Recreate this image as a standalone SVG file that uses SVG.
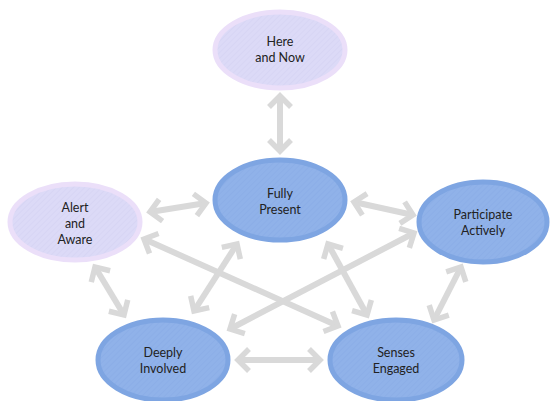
<svg xmlns="http://www.w3.org/2000/svg" width="551" height="401" viewBox="0 0 551 401">
<defs>
<style>
.conn line{stroke:#d9d9d9;stroke-width:6;fill:none;marker-start:url(#ah);marker-end:url(#ah)}
.lav{fill:url(#hatchL);stroke:#ebdff9;stroke-width:5}
.blue{fill:url(#hatchB);stroke:#7ea5e2;stroke-width:5}
text{font-family:Lato,"Open Sans","Liberation Sans",sans-serif;font-size:12.5px;fill:#222;text-anchor:middle}
</style>
<pattern id="hatchL" patternUnits="userSpaceOnUse" width="4" height="4" patternTransform="rotate(45)">
<rect width="4" height="4" fill="#dcdaf7"/>
<line x1="0" y1="0" x2="0" y2="4" stroke="#d3d1f2" stroke-width="1"/>
</pattern>
<pattern id="hatchB" patternUnits="userSpaceOnUse" width="4" height="4" patternTransform="rotate(45)">
<rect width="4" height="4" fill="#90b2e9"/>
<line x1="0" y1="0" x2="0" y2="4" stroke="#88abe5" stroke-width="1"/>
</pattern>
<marker id="ah" viewBox="-14 -14 28 28" markerWidth="28" markerHeight="28" markerUnits="userSpaceOnUse" refX="0" refY="0" orient="auto-start-reverse">
<path d="M-11,-11 L0,0 L-11,11" fill="none" stroke="#d9d9d9" stroke-width="5.5"/>
</marker>
</defs>
<g class="conn" id="connectors">
<line x1="280" y1="96" x2="280" y2="151"/>
<line x1="150" y1="212" x2="206" y2="203"/>
<line x1="354" y1="202" x2="413" y2="215"/>
<line x1="95" y1="267" x2="124" y2="315"/>
<line x1="461" y1="267" x2="434" y2="320"/>
<line x1="238" y1="360" x2="320" y2="360"/>
<line x1="144" y1="239" x2="338" y2="326"/>
<line x1="230" y1="329" x2="414" y2="233"/>
<line x1="237" y1="244" x2="194" y2="311"/>
<line x1="328" y1="244" x2="367" y2="315"/>
</g>
<g id="here-and-now">
<ellipse class="lav" cx="280" cy="50" rx="65" ry="38"/>
<text x="280" y="46">Here</text>
<text x="280" y="62">and Now</text>
</g>
<g id="fully-present">
<ellipse class="blue" cx="280" cy="200" rx="65" ry="40"/>
<text x="280" y="198">Fully</text>
<text x="280" y="214">Present</text>
</g>
<g id="alert-and-aware">
<ellipse class="lav" cx="75" cy="222" rx="65" ry="38"/>
<text x="75" y="212">Alert</text>
<text x="75" y="228">and</text>
<text x="75" y="244">Aware</text>
</g>
<g id="participate-actively">
<ellipse class="blue" cx="483" cy="222" rx="64" ry="40"/>
<text x="483" y="219">Participate</text>
<text x="483" y="235">Actively</text>
</g>
<g id="deeply-involved">
<ellipse class="blue" cx="163" cy="360" rx="65" ry="40"/>
<text x="163" y="357">Deeply</text>
<text x="163" y="373">Involved</text>
</g>
<g id="senses-engaged">
<ellipse class="blue" cx="396" cy="360" rx="66" ry="40"/>
<text x="396" y="357">Senses</text>
<text x="396" y="373">Engaged</text>
</g>
</svg>
